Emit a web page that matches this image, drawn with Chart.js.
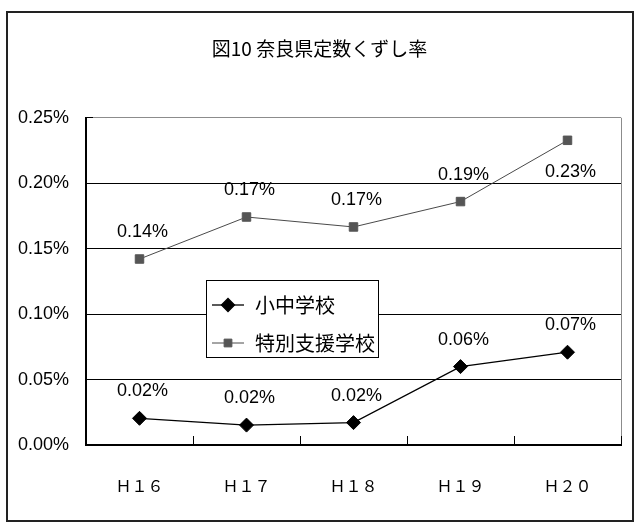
<!DOCTYPE html>
<html lang="ja">
<head>
<meta charset="utf-8">
<title>奈良県定数くずし率</title>
<script src="https://cdn.jsdelivr.net/npm/chart.js@4.4.1/dist/chart.umd.min.js"></script>
<style>
  html, body { margin: 0; padding: 0; background: #fff; }
  #wrap { position: relative; width: 635px; height: 525px; }
</style>
</head>
<body>
<div id="wrap"><canvas id="chart"></canvas></div>
<script>
// --- DATA ---
const years = ["Ｈ１６", "Ｈ１７", "Ｈ１８", "Ｈ１９", "Ｈ２０"];
const seriesNames = ["小中学校", "特別支援学校"];
// 定数くずし率 (%)
const elementaryJunior = [0.0204, 0.0152, 0.0171, 0.0599, 0.0709];
const specialSupport = [0.1421, 0.1742, 0.1666, 0.186, 0.2328];
const yTicks = [0, 0.05, 0.1, 0.15, 0.2, 0.25];
const chartTitle = "図10 奈良県定数くずし率";

const NUM_FONT = "'Liberation Sans', Arial, sans-serif";
const JP_FONT = "'Noto Sans CJK JP', sans-serif";

const pct = (v) => v.toFixed(2) + "%";

// outer frame around the whole figure
const framePlugin = {
  id: "frame",
  beforeDraw(chart) {
    const ctx = chart.ctx;
    ctx.save();
    ctx.fillStyle = "#fff";
    ctx.fillRect(0, 0, chart.width, chart.height);
    ctx.strokeStyle = "#222";
    ctx.lineWidth = 2;
    ctx.strokeRect(7, 12, 626, 509);
    ctx.restore();
  },
};

// thin grey right edge of the plot area
const plotEdgePlugin = {
  id: "plotEdge",
  beforeDatasetsDraw(chart) {
    const { ctx, chartArea } = chart;
    ctx.save();
    ctx.strokeStyle = "#8c8c8c";
    ctx.lineWidth = 1;
    ctx.beginPath();
    ctx.moveTo(chartArea.right + 0.5, chartArea.top);
    ctx.lineTo(chartArea.right + 0.5, chartArea.bottom - 9);
    ctx.stroke();
    ctx.restore();
  },
};

// value labels over / under each point
const valueLabelPlugin = {
  id: "valueLabels",
  afterDatasetsDraw(chart, args, opts) {
    const ctx = chart.ctx;
    ctx.save();
    ctx.font = "18px " + NUM_FONT;
    ctx.fillStyle = "#000";
    ctx.textAlign = "center";
    ctx.textBaseline = "middle";
    chart.data.datasets.forEach((ds, di) => {
      const meta = chart.getDatasetMeta(di);
      const place = opts.placement[di];
      meta.data.forEach((pt, i) => {
        const below = place[i] === "below";
        const y = below ? pt.y + opts.below : pt.y - opts.above;
        ctx.fillText(pct(ds.data[i]), pt.x + opts.shiftX, y);
      });
    });
    ctx.restore();
  },
};

// boxed legend sitting inside the plot
const boxLegendPlugin = {
  id: "boxLegend",
  afterDraw(chart, args, opts) {
    const ctx = chart.ctx;
    const b = opts.box;
    ctx.save();
    ctx.fillStyle = "#fff";
    ctx.fillRect(b.left, b.top, b.width, b.height);
    ctx.strokeStyle = "#000";
    ctx.lineWidth = 1;
    ctx.strokeRect(b.left + 0.5, b.top + 0.5, b.width, b.height);

    chart.data.datasets.forEach((ds, i) => {
      const y = b.top + opts.firstRow + i * opts.rowGap;
      const x0 = b.left + 6;
      const x1 = x0 + 32;
      ctx.strokeStyle = ds.borderColor;
      ctx.lineWidth = ds.borderWidth;
      ctx.beginPath();
      ctx.moveTo(x0, y);
      ctx.lineTo(x1, y);
      ctx.stroke();
      ctx.fillStyle = ds.pointBackgroundColor;
      ctx.strokeStyle = ds.pointBorderColor;
      Chart.helpers.drawPoint(ctx, {
        pointStyle: ds.pointStyle,
        radius: ds.pointRadius - 0.5,
        rotation: 0,
        borderWidth: 1,
      }, (x0 + x1) / 2, y);
      ctx.fillStyle = "#000";
      ctx.font = "20px " + JP_FONT;
      ctx.textAlign = "left";
      ctx.textBaseline = "middle";
      ctx.fillText(ds.label, x1 + 11, y);
    });
    ctx.restore();
  },
};

new Chart(document.getElementById("chart"), {
  type: "line",
  data: {
    labels: years,
    datasets: [
      {
        label: seriesNames[0],
        data: elementaryJunior,
        borderColor: "#000",
        borderWidth: 1.3,
        pointStyle: "rectRot",
        pointRadius: 7,
        pointBackgroundColor: "#000",
        pointBorderColor: "#000",
        pointBorderWidth: 1,
        tension: 0,
      },
      {
        label: seriesNames[1],
        data: specialSupport,
        borderColor: "#4a4a4a",
        borderWidth: 1,
        pointStyle: "rect",
        pointRadius: 6,
        pointBackgroundColor: "#555",
        pointBorderColor: "#555",
        pointBorderWidth: 1,
        tension: 0,
      },
    ],
  },
  options: {
    responsive: true,
    maintainAspectRatio: false,
    devicePixelRatio: 1,
    animation: false,
    layout: { padding: { left: 18, right: 14, top: 0, bottom: 0 } },
    scales: {
      x: {
        type: "category",
        offset: true,
        border: { color: "#000", width: 2 },
        grid: {
          offset: true,
          drawOnChartArea: false,
          drawTicks: true,
          tickLength: -9,
          tickColor: "#000",
          tickWidth: 1,
        },
        ticks: {
          color: "#000",
          padding: 40,
          maxRotation: 0,
          font: { family: JP_FONT, size: 16, lineHeight: 1.2 },
        },
        afterFit: (s) => { s.height = 80; },
      },
      y: {
        min: 0,
        max: 0.25,
        border: { color: "#000", width: 2 },
        grid: {
          color: (c) => (c.tick && c.tick.value === 0.25 ? "#8c8c8c" : "#000"),
          lineWidth: 1,
          drawTicks: true,
          tickLength: -7,
          tickColor: "#000",
        },
        ticks: {
          color: "#000",
          padding: 24,
          font: { family: NUM_FONT, size: 18 },
          callback: (v) => pct(v),
        },
        afterBuildTicks: (s) => { s.ticks = yTicks.map((v) => ({ value: v })); },
        afterFit: (s) => { s.width = 68; },
      },
    },
    plugins: {
      legend: { display: false },
      tooltip: { enabled: false },
      title: {
        display: true,
        text: chartTitle,
        color: "#000",
        font: { family: JP_FONT, size: 19, weight: "normal", lineHeight: 1.2 },
        padding: { top: 37, bottom: 58 },
      },
      valueLabels: {
        placement: [
          ["above", "above", "above", "above", "above"],
          ["above", "above", "above", "above", "below"],
        ],
        above: 27,
        below: 32,
        shiftX: 3,
      },
      boxLegend: {
        box: { left: 206, top: 280, width: 172, height: 77 },
        firstRow: 25,
        rowGap: 38,
      },
    },
  },
  plugins: [framePlugin, plotEdgePlugin, valueLabelPlugin, boxLegendPlugin],
});
</script>
</body>
</html>
